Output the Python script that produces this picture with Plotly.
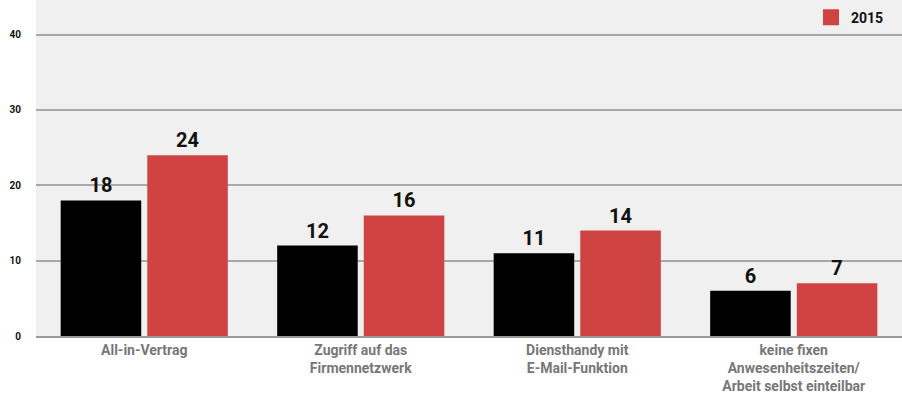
import plotly.graph_objects as go

categories = [
    "All-in-Vertrag",
    "Zugriff auf das<br>Firmennetzwerk",
    "Diensthandy mit<br>E-Mail-Funktion",
    "keine fixen<br>Anwesenheitszeiten/<br>Arbeit selbst einteilbar",
]
values_prev = [18, 12, 11, 6]
values_2015 = [24, 16, 14, 7]
y_ticks = [0, 10, 20, 30, 40]

FONT = "Roboto"
RED = "#D04343"

fig = go.Figure()
fig.add_trace(go.Bar(
    x=categories,
    y=values_prev,
    name="",
    marker_color="#000000",
    text=values_prev,
    textposition="outside",
    showlegend=False,
    cliponaxis=False,
))
fig.add_trace(go.Bar(
    x=categories,
    y=values_2015,
    name="2015",
    marker_color=RED,
    text=values_2015,
    textposition="outside",
    showlegend=False,
    cliponaxis=False,
))
fig.update_traces(
    textfont=dict(family=FONT, size=20, color="#111111", weight="bold"),
    marker_line_width=0,
)
# legend entry with a bigger square swatch
fig.add_trace(go.Scatter(
    x=[None], y=[None], mode="markers", name="2015",
    marker=dict(symbol="square", size=18, color=RED),
))
fig.update_layout(
    width=902,
    height=405,
    margin=dict(l=36, r=0, t=0, b=69),
    paper_bgcolor="#FFFFFF",
    plot_bgcolor="#F0F0F0",
    barmode="group",
    bargap=0.2,
    bargroupgap=0.07,
    font=dict(family=FONT, color="#111111"),
    legend=dict(
        x=0.985, y=0.995, xanchor="right", yanchor="top",
        bgcolor="rgba(0,0,0,0)",
        font=dict(family=FONT, size=14, color="#111111", weight="bold"),
        itemsizing="trace", itemwidth=30,
    ),
    xaxis=dict(
        tickfont=dict(family=FONT, size=14, color="#777777", weight="bold"),
        showline=True, linecolor="#999999", linewidth=2,
        ticks="", fixedrange=True,
    ),
    yaxis=dict(
        range=[0, 44.6],
        tickvals=y_ticks,
        tickfont=dict(family=FONT, size=10, color="#111111", weight="bold"),
        showgrid=True, gridcolor="#A8A8A8", gridwidth=1.5,
        zeroline=False, ticks="", ticklabelstandoff=14,
    ),
)
fig.write_html(
    "out.html",
    config={"displayModeBar": False},
    post_script="document.body.style.margin='0';",
)
